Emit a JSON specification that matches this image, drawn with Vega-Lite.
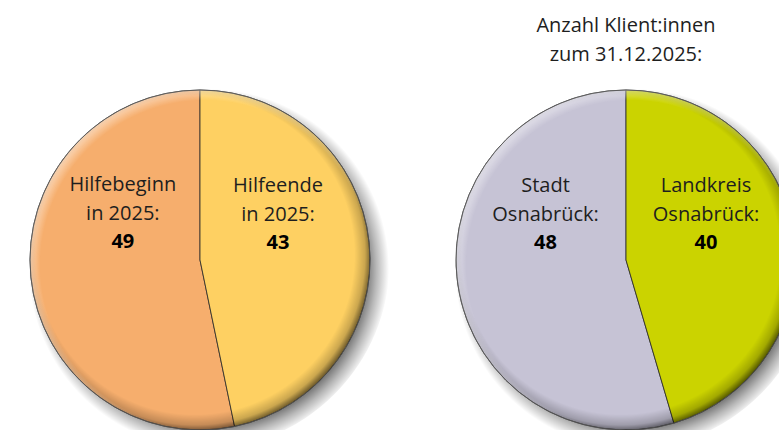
{
  "$schema": "https://vega.github.io/schema/vega-lite/v6.json",
  "width": 779,
  "height": 340,
  "autosize": {"type": "none"},
  "padding": {"top": 90, "left": 0, "right": 0, "bottom": 0},
  "background": "white",
  "config": {"view": {"stroke": null}, "font": "Open Sans"},
  "title": {
    "text": ["Anzahl Klient:innen", "zum 31.12.2025:"],
    "anchor": "end",
    "frame": "group",
    "align": "center",
    "baseline": "top",
    "dx": -153,
    "offset": 5,
    "lineHeight": 29,
    "font": "Open Sans",
    "fontSize": 20,
    "fontWeight": "normal",
    "color": "#1e1e1e"
  },
  "datasets": {
    "diagramme": [
      {"diagramm": "Hilfen 2025"},
      {"diagramm": "Klient:innen 31.12.2025"}
    ],
    "hilfe": [
      {"diagramm": "Hilfen 2025", "kategorie": "Hilfebeginn", "label": "Hilfebeginn\nin 2025:", "anzahl": 49},
      {"diagramm": "Hilfen 2025", "kategorie": "Hilfeende", "label": "Hilfeende\nin 2025:", "anzahl": 43}
    ],
    "klienten": [
      {"diagramm": "Klient:innen 31.12.2025", "kategorie": "Stadt Osnabrück", "label": "Stadt\nOsnabrück:", "anzahl": 48},
      {"diagramm": "Klient:innen 31.12.2025", "kategorie": "Landkreis Osnabrück", "label": "Landkreis\nOsnabrück:", "anzahl": 40}
    ]
  },
  "layer": [
    {
      "data": {"name": "diagramme"},
      "mark": {
        "type": "arc",
        "radius": 190,
        "fill": {
          "gradient": "radial",
          "x1": 0.5237, "y1": 0.5237, "r1": 0,
          "x2": 0.5237, "y2": 0.5237, "r2": 0.4737,
          "stops": [
            {"offset": 0, "color": "rgba(0,0,0,0.6)"},
            {"offset": 0.86, "color": "rgba(0,0,0,0.6)"},
            {"offset": 0.93, "color": "rgba(0,0,0,0.28)"},
            {"offset": 1, "color": "rgba(0,0,0,0)"}
          ]
        }
      },
      "encoding": {
        "x": {"field": "diagramm", "type": "nominal", "axis": null, "scale": {"type": "point", "domain": ["Hilfen 2025", "Klient:innen 31.12.2025"], "padding": 0.4143, "align": 0.5666}}
      }
    },
    {
      "data": {"name": "hilfe"},
      "mark": {"type": "arc", "radius": 170, "stroke": "#2a2a2a", "strokeWidth": 0.8},
      "encoding": {
        "x": {"field": "diagramm", "type": "nominal", "axis": null},
        "theta": {"field": "anzahl", "type": "quantitative", "stack": true},
        "order": {"field": "anzahl", "sort": "ascending"},
        "color": {"field": "kategorie", "type": "nominal", "legend": null, "scale": {"domain": ["Hilfebeginn", "Hilfeende", "Stadt Osnabrück", "Landkreis Osnabrück"], "range": ["#F6AE6D", "#FED062", "#C6C3D5", "#CBD300"]}}
      }
    },
    {
      "data": {"name": "klienten"},
      "mark": {"type": "arc", "radius": 170, "stroke": "#2a2a2a", "strokeWidth": 0.8},
      "encoding": {
        "x": {"field": "diagramm", "type": "nominal", "axis": null},
        "theta": {"field": "anzahl", "type": "quantitative", "stack": true},
        "order": {"field": "anzahl", "sort": "ascending"},
        "color": {"field": "kategorie", "type": "nominal", "legend": null, "scale": {"domain": ["Hilfebeginn", "Hilfeende", "Stadt Osnabrück", "Landkreis Osnabrück"], "range": ["#F6AE6D", "#FED062", "#C6C3D5", "#CBD300"]}}
      }
    },
    {
      "data": {"name": "diagramme"},
      "mark": {
        "type": "arc",
        "radius": 170,
        "fill": {
          "gradient": "radial",
          "x1": 0.4853, "y1": 0.4853, "r1": 0,
          "x2": 0.4853, "y2": 0.4853, "r2": 0.5207,
          "stops": [
            {"offset": 0, "color": "rgba(0,0,0,0)"},
            {"offset": 0.9, "color": "rgba(0,0,0,0)"},
            {"offset": 0.96, "color": "rgba(0,0,0,0.2)"},
            {"offset": 1, "color": "rgba(0,0,0,0.6)"}
          ]
        }
      },
      "encoding": {
        "x": {"field": "diagramm", "type": "nominal", "axis": null}
      }
    },
    {
      "data": {"name": "diagramme"},
      "mark": {
        "type": "arc",
        "radius": 170,
        "stroke": "#555",
        "strokeWidth": 0.8,
        "fill": {
          "gradient": "radial",
          "x1": 0.5147, "y1": 0.5147, "r1": 0,
          "x2": 0.5147, "y2": 0.5147, "r2": 0.5207,
          "stops": [
            {"offset": 0, "color": "rgba(255,255,255,0)"},
            {"offset": 0.93, "color": "rgba(255,255,255,0)"},
            {"offset": 1, "color": "rgba(255,255,255,0.5)"}
          ]
        }
      },
      "encoding": {
        "x": {"field": "diagramm", "type": "nominal", "axis": null}
      }
    },
    {
      "data": {"name": "hilfe"},
      "mark": {"type": "text", "radius": 91, "dy": -21, "fontSize": 20, "lineHeight": 29, "lineBreak": "\n", "align": "center", "baseline": "alphabetic", "color": "#1e1e1e"},
      "encoding": {
        "x": {"field": "diagramm", "type": "nominal", "axis": null},
        "theta": {"field": "anzahl", "type": "quantitative", "stack": true, "scale": {"range": [1.984, -2.1]}},
        "order": {"field": "anzahl", "sort": "ascending"},
        "detail": {"field": "kategorie", "type": "nominal"},
        "text": {"field": "label", "type": "nominal"}
      }
    },
    {
      "data": {"name": "hilfe"},
      "mark": {"type": "text", "radius": 91, "dy": 36, "fontSize": 20, "fontWeight": "bold", "align": "center", "baseline": "alphabetic", "color": "#000"},
      "encoding": {
        "x": {"field": "diagramm", "type": "nominal", "axis": null},
        "theta": {"field": "anzahl", "type": "quantitative", "stack": true, "scale": {"range": [1.984, -2.1]}},
        "order": {"field": "anzahl", "sort": "ascending"},
        "detail": {"field": "kategorie", "type": "nominal"},
        "text": {"field": "anzahl", "type": "quantitative"}
      }
    },
    {
      "data": {"name": "klienten"},
      "mark": {"type": "text", "radius": 93, "dy": -21, "fontSize": 20, "lineHeight": 29, "lineBreak": "\n", "align": "center", "baseline": "alphabetic", "color": "#1e1e1e"},
      "encoding": {
        "x": {"field": "diagramm", "type": "nominal", "axis": null},
        "theta": {"field": "anzahl", "type": "quantitative", "stack": true, "scale": {"range": [1.983, -2.182]}},
        "order": {"field": "anzahl", "sort": "ascending"},
        "detail": {"field": "kategorie", "type": "nominal"},
        "text": {"field": "label", "type": "nominal"}
      }
    },
    {
      "data": {"name": "klienten"},
      "mark": {"type": "text", "radius": 93, "dy": 36, "fontSize": 20, "fontWeight": "bold", "align": "center", "baseline": "alphabetic", "color": "#000"},
      "encoding": {
        "x": {"field": "diagramm", "type": "nominal", "axis": null},
        "theta": {"field": "anzahl", "type": "quantitative", "stack": true, "scale": {"range": [1.983, -2.182]}},
        "order": {"field": "anzahl", "sort": "ascending"},
        "detail": {"field": "kategorie", "type": "nominal"},
        "text": {"field": "anzahl", "type": "quantitative"}
      }
    }
  ],
  "resolve": {"scale": {"theta": "independent"}}
}
